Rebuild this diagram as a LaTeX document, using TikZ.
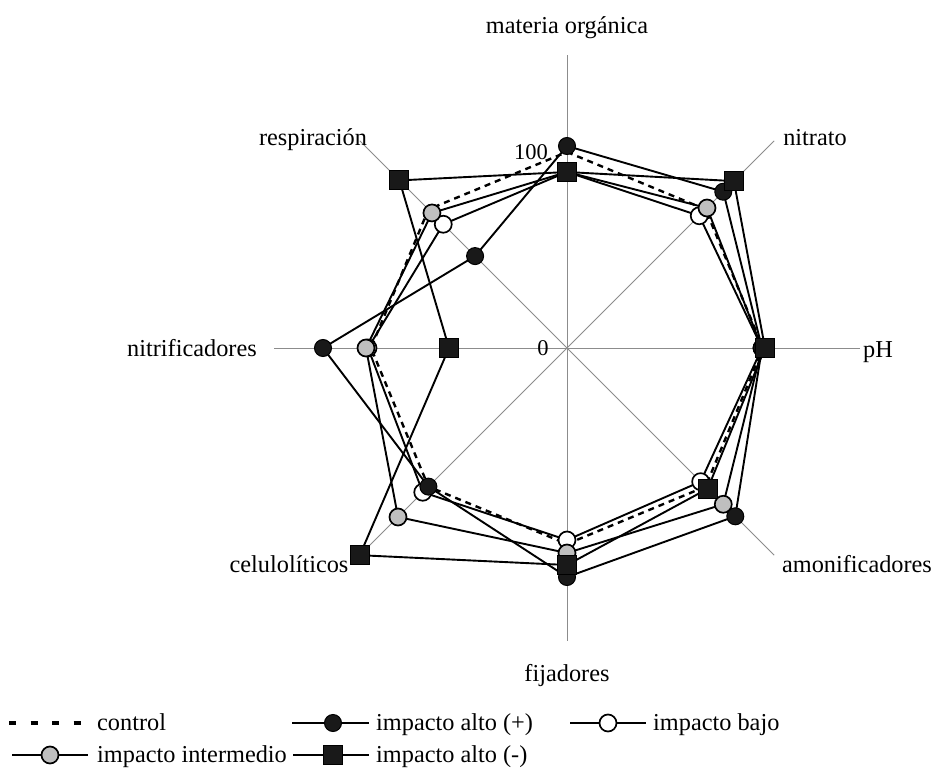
\documentclass[tikz,border=0pt]{standalone}
\usepackage{fontspec}
\setmainfont{Liberation Serif}
\usetikzlibrary{backgrounds}
\begin{document}
\begin{tikzpicture}[x=1pt,y=1pt,
  lbl/.style={font=\fontsize{24.3}{27}\selectfont, inner sep=0pt},
  axisline/.style={draw=black!45, line width=0.9pt},
  series/.style={draw=black, line width=1.9pt, line join=round},
  ctrl/.style={draw=black, line width=2.4pt, dash pattern=on 6pt off 5pt},
  bcirc/.style={circle, draw=black, fill=black!90, line width=1pt, minimum size=17pt, inner sep=0pt},
  wcirc/.style={circle, draw=black, fill=white, line width=1.7pt, minimum size=17pt, inner sep=0pt},
  gcirc/.style={circle, draw=black, fill=black!25, line width=1.7pt, minimum size=17pt, inner sep=0pt},
  sqr/.style={rectangle, draw=black, fill=black!90, line width=1pt, minimum size=19pt, inner sep=0pt},
  legline/.style={draw=black, line width=1.6pt}]
\useasboundingbox (0,0) rectangle (935,-771);
\begin{scope}[shift={(567,-348)}]
  \coordinate (O) at (0,0);
  % axes
  \begin{pgfonlayer}{background}
  \foreach \a in {0,45,...,315} {
    \draw[axisline] (O) -- (\a:293) coordinate (ax\a);
  }
  \end{pgfonlayer}
  % control (100 on every axis)
  \foreach \a/\n in {90/mo,45/ni,0/ph,-45/am,-90/fi,-135/ce,180/nf,135/re}
    \coordinate (c-\n) at (\a:196);
  % markers
  \foreach \a/\n/\r in {90/mo/176,45/ni/187,0/ph/195,-45/am/189,-90/fi/192,-135/ce/204,180/nf/199,135/re/175}
    \node[wcirc] (w-\n) at (\a:\r) {};
  \foreach \a/\n/\r in {90/mo/176,45/ni/198,0/ph/195,-45/am/221,-90/fi/205,-135/ce/239,180/nf/201,135/re/191}
    \node[gcirc] (g-\n) at (\a:\r) {};
  \foreach \a/\n/\r in {90/mo/202,45/ni/221,0/ph/195,-45/am/238,-90/fi/229,-135/ce/196,180/nf/244,135/re/130}
    \node[bcirc] (b-\n) at (\a:\r) {};
  \foreach \a/\n/\r in {90/mo/176,45/ni/236,0/ph/198,-45/am/199,-90/fi/217,-135/ce/293,180/nf/118,135/re/237}
    \node[sqr] (s-\n) at (\a:\r) {};
  % lines behind markers
  \begin{pgfonlayer}{background}
  \draw[ctrl] (c-mo) -- (c-ni) -- (c-ph) -- (c-am) -- (c-fi) -- (c-ce) -- (c-nf) -- (c-re) -- cycle;
  \foreach \p in {w,g,b,s}
    \draw[series] (\p-mo.center) -- (\p-ni.center) -- (\p-ph.center) -- (\p-am.center) -- (\p-fi.center) -- (\p-ce.center) -- (\p-nf.center) -- (\p-re.center) -- cycle;
  \end{pgfonlayer}
\end{scope}
% axis labels
\node[lbl, anchor=base] (l-mo) at (567,-33) {materia orgánica};
\node[lbl, anchor=base] (l-ni) at (815,-145) {nitrato};
\node[lbl, anchor=base west] (l-ph) at (863,-357) {pH};
\node[lbl, anchor=base] (l-am) at (857,-572) {amonificadores};
\node[lbl, anchor=base] (l-fi) at (567,-681) {fijadores};
\node[lbl, anchor=base] (l-ce) at (289,-572) {celulolíticos};
\node[lbl, anchor=base] (l-nf) at (192,-356) {nitrificadores};
\node[lbl, anchor=base] (l-re) at (313,-145) {respiración};
\node[lbl, anchor=base east, font=\fontsize{22.5}{24}\selectfont] (l-100) at (548,-159) {100};
\node[lbl, anchor=base, font=\fontsize{22.5}{24}\selectfont] (l-0) at (543,-355) {0};
% legend
\coordinate (k1a) at (9,-723); \coordinate (k1b) at (89,-723);
\draw[black, line width=3.5pt, dash pattern=on 7pt off 14.5pt] (k1a) -- (k1b);
\node[lbl, anchor=base west] (t1) at (97,-730) {control};
\coordinate (k2a) at (292,-723); \coordinate (k2b) at (369,-723);
\draw[legline] (k2a) -- (k2b);
\node[bcirc] (m2) at (333,-723) {};
\node[lbl, anchor=base west] (t2) at (376,-730) {impacto alto (+)};
\coordinate (k3a) at (570,-723); \coordinate (k3b) at (646,-723);
\draw[legline] (k3a) -- (k3b);
\node[wcirc] (m3) at (608,-723) {};
\node[lbl, anchor=base west] (t3) at (653,-730) {impacto bajo};
\coordinate (k4a) at (12,-755); \coordinate (k4b) at (88,-755);
\draw[legline] (k4a) -- (k4b);
\node[gcirc] (m4) at (50,-755) {};
\node[lbl, anchor=base west] (t4) at (97,-762) {impacto intermedio};
\coordinate (k5a) at (293,-755); \coordinate (k5b) at (369,-755);
\draw[legline] (k5a) -- (k5b);
\node[sqr] (m5) at (333,-755) {};
\node[lbl, anchor=base west] (t5) at (376,-762) {impacto alto (-)};
\end{tikzpicture}
\end{document}
